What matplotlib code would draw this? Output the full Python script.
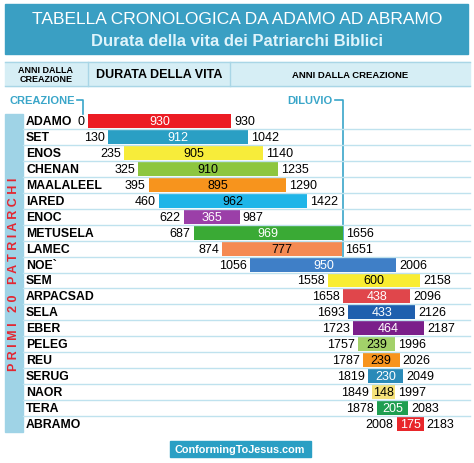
import matplotlib
matplotlib.use("Agg")
import matplotlib.pyplot as plt
from matplotlib.patches import Rectangle

plt.rcParams['font.family'] = ['Liberation Sans', 'DejaVu Sans']

names = ["ADAMO", "SET", "ENOS", "CHENAN", "MAALALEEL", "IARED", "ENOC", "METUSELA",
         "LAMEC", "NOE`", "SEM", "ARPACSAD", "SELA", "EBER", "PELEG", "REU", "SERUG",
         "NAOR", "TERA", "ABRAMO"]
births = [0, 130, 235, 325, 395, 460, 622, 687, 874, 1056, 1558, 1658, 1693, 1723,
          1757, 1787, 1819, 1849, 1878, 2008]
durations = [930, 912, 905, 910, 895, 962, 365, 969, 777, 950, 600, 438, 433, 464,
             239, 239, 230, 148, 205, 175]
deaths = [930, 1042, 1140, 1235, 1290, 1422, 987, 1656, 1651, 2006, 2158, 2096, 2126,
          2187, 1996, 2026, 2049, 1997, 2083, 2183]
colors = ["#ec1c24", "#2a9fc4", "#f7ec3a", "#8dc63f", "#f7941d", "#1fb5e8", "#9b3fa8",
          "#3aaa35", "#f58a52", "#3f7fc7", "#f9ed32", "#e0464b", "#1f5fae", "#7b1f8a",
          "#a3d16a", "#f7941d", "#2a8ab8", "#f6e27a", "#1e9e50", "#e8262a"]
light = {"#f7ec3a", "#8dc63f", "#f7941d", "#f9ed32", "#a3d16a", "#f6e27a", "#f58a52", "#1fb5e8"}
flood = 1656

W, H = 474, 464
fig = plt.figure(figsize=(W / 100, H / 100), dpi=100)
bg = fig.add_axes([0, 0, 1, 1])
bg.set_xlim(0, W); bg.set_ylim(H, 0); bg.axis("off")

blue = "#3a9fc3"
bg.add_patch(Rectangle((5, 5), 463, 50, color=blue))
bg.text(237, 20, "TABELLA CRONOLOGICA DA ADAMO AD ABRAMO", color="white", fontsize=12.5,
        ha="center", va="center")
bg.text(237, 42, "Durata della vita dei Patriarchi Biblici", color="#dff4fb", fontsize=12,
        ha="center", va="center", fontweight="bold")
hdr = "#d6eef5"
bg.add_patch(Rectangle((5, 63), 465, 24, color=hdr))
for x in (88, 230):
    bg.plot([x, x], [63, 87], color="#a9d6e6", lw=1)
bg.plot([5, 470], [63, 63], color="#a9d6e6", lw=1)
bg.plot([5, 470], [87, 87], color="#a9d6e6", lw=1)
bg.text(46, 75, "ANNI DALLA\nCREAZIONE", fontsize=6.5, fontweight="bold", ha="center",
        va="center", linespacing=0.9)
bg.text(159, 75, "DURATA DELLA VITA", fontsize=9, fontweight="bold", ha="center", va="center")
bg.text(350, 75, "ANNI DALLA CREAZIONE", fontsize=6.8, fontweight="bold", ha="center", va="center")
bg.add_patch(Rectangle((5, 115), 18, 318, color="#9fd3e6"))
bg.text(14, 274, "P R I M I   2 0   P A T R I A R C H I", rotation=90, color="#e32630",
        fontsize=9, fontweight="bold", ha="center", va="center")
bg.add_patch(Rectangle((170, 442), 141, 16, color="#2a9fc4"))
bg.text(240, 450, "ConformingToJesus.com", color="white", fontsize=7.8, fontweight="bold",
        ha="center", va="center")

scale = 143 / 930.0
x0 = 88
ax = fig.add_axes([x0 / W, (H - 433) / H, (W - x0) / W, (433 - 114) / H])
ax.set_xlim(0, (W - x0) / scale)
ax.set_ylim(len(names) - 0.5, -0.5)
ax.axis("off")

n = len(names)
ax.barh(range(n), durations, left=births, height=0.88, color=colors)
for i in range(n):
    if i < n - 1:
        ax.plot([(23 - x0) / scale, (470 - x0) / scale], [i + 0.5, i + 0.5],
                color="#bfe2ee", lw=1, clip_on=False)
    ax.text((26 - x0) / scale, i, names[i], fontsize=8.8, fontweight="bold", va="center",
            ha="left", clip_on=False)
    ax.text(births[i] - 20, i, str(births[i]), fontsize=9, va="center", ha="right")
    ax.text(births[i] + durations[i] / 2, i, str(durations[i]), fontsize=9, va="center",
            ha="center", color="black" if colors[i] in light else "white")
    ax.text(deaths[i] + 20, i, str(deaths[i]), fontsize=9, va="center", ha="left")

bg.text(10, 101, "CREAZIONE", color="#3aa6c9", fontsize=8, fontweight="bold", va="center")
bg.plot([77, 83, 83], [101, 101, 115], color="#3aa6c9", lw=1.2)
fx = x0 + flood * scale
bg.text(fx - 55, 101, "DILUVIO", color="#3aa6c9", fontsize=8, fontweight="bold", va="center")
bg.plot([fx - 8, fx, fx], [101, 101, 258], color="#3aa6c9", lw=1.2)

fig.savefig("out.png", dpi=100)
